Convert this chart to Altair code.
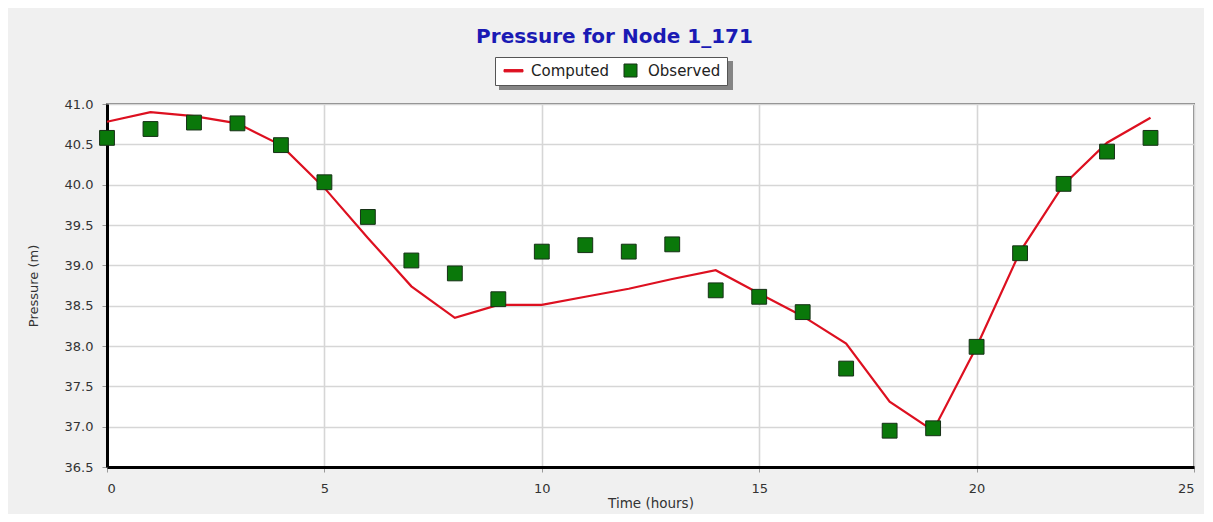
import altair as alt
import pandas as pd

hours = list(range(25))
computed = [40.78, 40.90, 40.85, 40.76, 40.49, 39.96, 39.34, 38.74, 38.35, 38.51,
            38.51, 38.61, 38.71, 38.83, 38.94, 38.65, 38.37, 38.03, 37.31, 36.95,
            37.99, 39.17, 40.00, 40.52, 40.83]
observed = [40.58, 40.69, 40.77, 40.76, 40.49, 40.03, 39.60, 39.06, 38.90, 38.58,
            39.17, 39.25, 39.17, 39.26, 38.69, 38.61, 38.42, 37.72, 36.95, 36.98,
            37.99, 39.15, 40.01, 40.41, 40.58]
series_names = ["Computed", "Observed"]
x_ticks = [0, 5, 10, 15, 20, 25]
y_ticks = [36.5, 37.0, 37.5, 38.0, 38.5, 39.0, 39.5, 40.0, 40.5, 41.0]

comp_df = pd.DataFrame({"t": hours, "p": computed})
obs_df = pd.DataFrame({"t": hours, "p": observed, "series": ["Observed"] * len(hours)})

FONT = "DejaVu Sans"
W, H = 1087, 363
RED = "#dd1020"
GREEN = "#0a780a"
DARK = "#163016"

x_enc = alt.X("t:Q", scale=alt.Scale(domain=[0, 25], nice=False, zero=False),
              axis=alt.Axis(values=x_ticks, title="Time (hours)", format="d"))
y_enc = alt.Y("p:Q", scale=alt.Scale(domain=[36.5, 41.0], nice=False, zero=False),
              axis=alt.Axis(values=y_ticks, title="Pressure (m)", format=".1f"))

legend = alt.Legend(title=None, orient="none", legendX=388, legendY=-47,
                    direction="horizontal", fillColor="white",
                    strokeColor="#555555", padding=6, labelFontSize=15,
                    labelFont=FONT, labelColor="#222222", symbolSize=169,
                    columnPadding=9, symbolStrokeWidth=1, labelOffset=10,
                    symbolOffset=5, symbolOpacity=1)

line = alt.Chart(comp_df).mark_line(color=RED, strokeWidth=2.2).encode(x=x_enc, y=y_enc)

points = alt.Chart(obs_df).mark_point(filled=True, size=220, strokeWidth=1, opacity=1).encode(
    x=x_enc, y=y_enc,
    color=alt.Color("series:N", scale=alt.Scale(domain=series_names, range=[RED, GREEN]),
                    legend=legend),
    stroke=alt.Stroke("series:N", scale=alt.Scale(domain=series_names, range=[RED, DARK]),
                      legend=legend),
    shape=alt.Shape("series:N", scale=alt.Scale(domain=series_names,
                                                range=["M-1.46,-0.18H1.46V0.18H-1.46Z", "square"]),
                    legend=legend),
)

shadow = alt.Chart(obs_df).mark_rect(color="#858585", clip=False).encode(
    x=alt.value(392), x2=alt.value(626), y=alt.value(-43), y2=alt.value(-14)
)

chart = alt.layer(shadow, line, points).properties(
    width=W, height=H,
    autosize=alt.AutoSizeParams(type="none"),
    padding={"left": 99, "top": 96, "right": 10, "bottom": 47},
    background="#f0f0f0",
    title=alt.Title("Pressure for Node 1_171", font=FONT, fontSize=20, fontWeight="bold",
                    color="#1a1ab4", anchor="middle", dx=-36, offset=10),
).configure_view(
    fill="white", stroke="#808080", strokeWidth=2
).configure_axis(
    labelFont=FONT, labelFontSize=13, labelColor="#333333",
    titleFont=FONT, titleFontSize=13, titleFontWeight="normal", titleColor="#333333",
    gridColor="#d6d6d6", gridWidth=1.6, domainColor="#000000", domainWidth=3,
    tickColor="#999999", tickSize=5
).configure_axisX(labelPadding=10, titlePadding=1, titleFontSize=13.5).configure_axisY(
    labelPadding=9, titlePadding=24)

chart.save("out.html", embed_options={"renderer": "svg", "actions": False})
